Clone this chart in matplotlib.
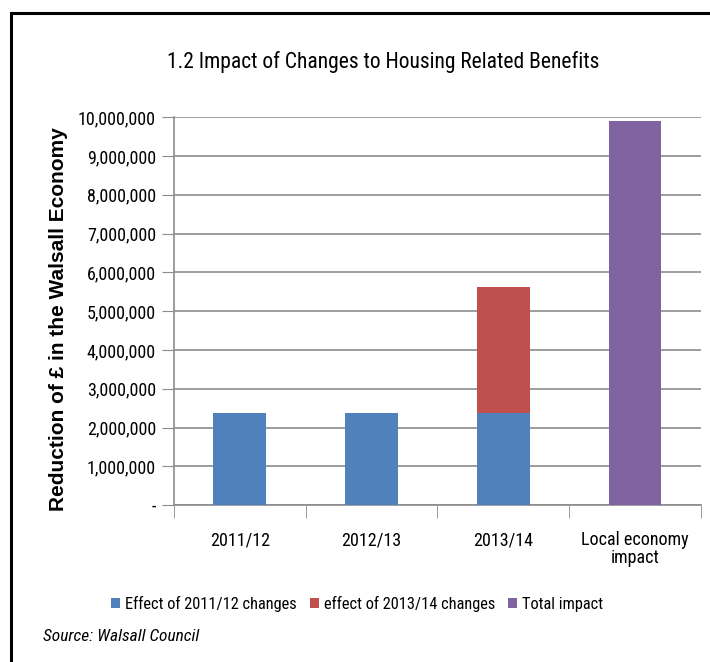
import matplotlib.pyplot as plt
from matplotlib.patches import Rectangle
import numpy as np

categories = ["2011/12", "2012/13", "2013/14", "Local economy\nimpact"]
effect_2011 = [2370000, 2370000, 2370000, 0]
effect_2013 = [0, 0, 3250000, 0]
total_impact = [0, 0, 0, 9900000]
yticks = [0, 1000000, 2000000, 3000000, 4000000, 5000000,
          6000000, 7000000, 8000000, 9000000, 10000000]

plt.rcParams['font.family'] = ['Roboto Condensed', 'Liberation Sans', 'DejaVu Sans']

fig = plt.figure(figsize=(7.1, 6.62), dpi=100)
ax = fig.add_axes([0.245, 0.237, 0.742, 0.586])

x = np.arange(len(categories))
w = 0.4
b1 = ax.bar(x, effect_2011, w, color="#4F81BD", label="Effect of 2011/12 changes", zorder=3)
b2 = ax.bar(x, effect_2013, w, bottom=effect_2011, color="#C0504D",
            label="effect of 2013/14 changes", zorder=3)
b3 = ax.bar(x, total_impact, w, color="#8064A2", label="Total impact", zorder=3)

ax.set_xlim(-0.5, 3.5)
ax.set_ylim(0, 10000000)
ax.set_yticks(yticks)
ax.set_yticklabels(["-"] + [f"{v:,}" for v in yticks[1:]], fontsize=13)
ax.yaxis.grid(True, color="#8c8c8c", linewidth=1.2, zorder=0)
ax.tick_params(axis='y', length=9, color="#8c8c8c", pad=4)

ax.set_xticks(x)
ax.set_xticklabels(categories, fontsize=13, linespacing=1.0)
ax.tick_params(axis='x', length=0, pad=19)
ax.set_xticks([-0.5, 0.5, 1.5, 2.5, 3.5], minor=True)
ax.tick_params(axis='x', which='minor', length=9, color="#8c8c8c")

for s in ["top", "right"]:
    ax.spines[s].set_visible(False)
for s in ["left", "bottom"]:
    ax.spines[s].set_color("#8c8c8c")
    ax.spines[s].set_linewidth(1.2)

ax.set_ylabel("Reduction of £ in the Walsall Economy", fontsize=15,
              fontweight="bold", family=["Liberation Sans", "DejaVu Sans"],
              va="center")
ax.yaxis.set_label_coords(-0.22, 0.48)

fig.text(0.54, 0.906, "1.2 Impact of Changes to Housing Related Benefits",
         ha="center", va="center", fontsize=15.5)

fig.legend(handles=[b1, b2, b3], loc="center", bbox_to_anchor=(0.503, 0.088),
           ncol=3, frameon=False, fontsize=11.8, handlelength=0.55, handleheight=0.55,
           handletextpad=0.3, columnspacing=0.8)

fig.text(0.06, 0.038, "Source: Walsall Council", ha="left", va="center",
         fontsize=12.5, style="italic")

fig.patches.append(Rectangle((0.015, -0.05), 1.1, 1.03, transform=fig.transFigure,
                             fill=False, edgecolor="black", linewidth=2.2))

fig.savefig("out.png", dpi=100)
